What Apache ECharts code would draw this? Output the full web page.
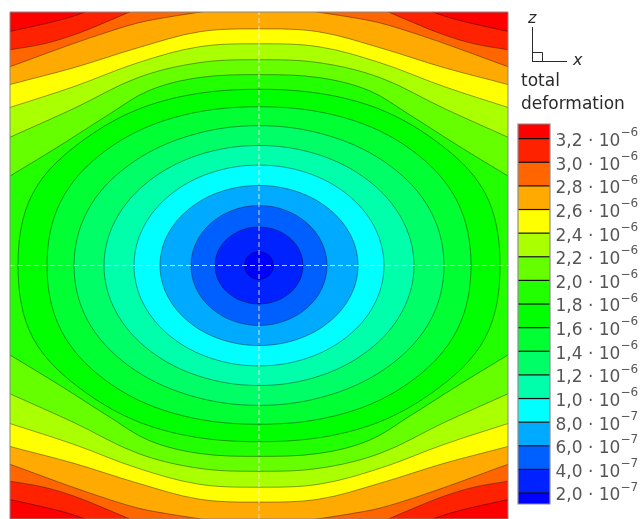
<!DOCTYPE html>
<html><head><meta charset="utf-8">
<script src="https://cdn.jsdelivr.net/npm/echarts@6/dist/echarts.min.js"></script>
<style>html,body{margin:0;padding:0;background:#fff}#c{width:642px;height:519px}</style>
</head><body><div id="c"></div>
<script>
// ---- data (total deformation, x 1e-6) ----
const levels = [0.2,0.4,0.6,0.8,1.0,1.2,1.4,1.6,1.8,2.0,2.2,2.4,2.6,2.8,3.0,3.2];
const bandColors = ['#0000FF','#0022FF','#0060FF','#00AAFF','#00FFFF','#00FFAA','#00FF66','#00FF33','#00FF00','#22FF00','#66FF00','#AAFF00','#FFFF00','#FFAA00','#FF6600','#FF2200','#FF0000'];
const tickMantissa = ['2,0','4,0','6,0','8,0','1,0','1,2','1,4','1,6','1,8','2,0','2,2','2,4','2,6','2,8','3,0','3,2'];
const tickExponent = ['\u22127','\u22127','\u22127','\u22127','\u22126','\u22126','\u22126','\u22126','\u22126','\u22126','\u22126','\u22126','\u22126','\u22126','\u22126','\u22126'];
const colorbarMin = 0.107, colorbarMax = 3.324;
const plateX = [-249, 249];
const plateZ = [-255, 255];
const symAxisV = [[0,-255],[0,255]];
const symAxisH = [[-249,0],[249,0]];

// contour lines (x, z) for each level
const c02 = [[0,14],[5.6,12.9],[10.3,9.9],[13.4,5.4],[14.5,0],[13.4,-5.4],[10.3,-9.9],[5.6,-12.9],[0,-14],[-5.6,-12.9],[-10.3,-9.9],[-13.4,-5.4],[-14.5,0],[-13.4,5.4],[-10.3,9.9],[-5.6,12.9]];
const c04 = [[0,38.7],[16.9,35.8],[31.1,27.4],[40.7,14.8],[44,0],[40.7,-14.8],[31.1,-27.4],[16.9,-35.8],[0,-38.7],[-16.9,-35.8],[-31.1,-27.4],[-40.7,-14.8],[-44,0],[-40.7,14.8],[-31.1,27.4],[-16.9,35.8]];
const c06 = [[0,60.3],[26,55.7],[48.1,42.6],[62.8,23.1],[68,0],[62.8,-23.1],[48.1,-42.6],[26,-55.7],[0,-60.3],[-26,-55.7],[-48.1,-42.6],[-62.8,-23.1],[-68,0],[-62.8,23.1],[-48.1,42.6],[-26,55.7]];
const c08 = [[0,80.5],[37.9,74.4],[70,56.9],[91.5,30.8],[99,0],[91.5,-30.8],[70,-56.9],[37.9,-74.4],[0,-80.5],[-37.9,-74.4],[-70,-56.9],[-91.5,-30.8],[-99,0],[-91.5,30.8],[-70,56.9],[-37.9,74.4]];
const c10 = [[0,101],[47.9,93.3],[88.4,71.4],[115.5,38.7],[125,0],[115.5,-38.7],[88.4,-71.4],[47.9,-93.3],[0,-101],[-47.9,-93.3],[-88.4,-71.4],[-115.5,-38.7],[-125,0],[-115.5,38.7],[-88.4,71.4],[-47.9,93.3]];
const c12 = [[0,120.7],[59.4,111.5],[109.6,85.3],[143.2,46.2],[155,0],[143.2,-46.2],[109.6,-85.3],[59.4,-111.5],[0,-120.7],[-59.4,-111.5],[-109.6,-85.3],[-143.2,-46.2],[-155,0],[-143.2,46.2],[-109.6,85.3],[-59.4,111.5]];
const c14 = [[0,140.7],[71.5,130],[131.5,100],[171.5,55],[185,0],[171.5,-55],[131.5,-100],[71.5,-130],[0,-140.7],[-71.5,-130],[-131.5,-100],[-171.5,-55],[-185,0],[-171.5,55],[-131.5,100],[-71.5,130]];
const c16 = [[0,159.7],[86,148.5],[153.5,115.5],[198,65],[212,0],[198,-65],[153.5,-115.5],[86,-148.5],[0,-159.7],[-86,-148.5],[-153.5,-115.5],[-198,-65],[-212,0],[-198,65],[-153.5,115.5],[-86,148.5]];
const c18 = [[0,177.3],[98,165],[173,128],[226,73],[241,0],[226,-73],[173,-128],[98,-165],[0,-177.3],[-98,-165],[-173,-128],[-226,-73],[-241,0],[-226,73],[-173,128],[-98,165]];
const c20 = [[0,192],[60,189],[110,176],[150,152],[200,120],[249,90],[262,82],[262,-82],[249,-90],[200,-120],[150,-152],[110,-176],[60,-189],[0,-192],[-60,-189],[-110,-176],[-150,-152],[-200,-120],[-249,-90],[-262,-82],[-262,82],[-249,90],[-200,120],[-150,152],[-110,176],[-60,189]];
const c22 = [[0,207],[60,204],[121,189],[185,158],[249,129],[262,123],[262,-123],[249,-129],[185,-158],[121,-189],[60,-204],[0,-207],[-60,-204],[-121,-189],[-185,-158],[-249,-129],[-262,-123],[-262,123],[-249,129],[-185,158],[-121,189],[-60,204]];
const c24 = [[0,223],[60,220],[121,204],[185,180],[249,159],[262,155],[262,-155],[249,-159],[185,-180],[121,-204],[60,-220],[0,-223],[-60,-220],[-121,-204],[-185,-180],[-249,-159],[-262,-155],[-262,155],[-249,159],[-185,180],[-121,204],[-60,220]];
const c26 = [[0,238],[60,235],[121,219],[185,199],[249,182],[262,178],[262,-178],[249,-182],[185,-199],[121,-219],[60,-235],[0,-238],[-60,-235],[-121,-219],[-185,-199],[-249,-182],[-262,-178],[-262,178],[-249,182],[-185,199],[-121,219],[-60,235]];
const c28 = [[0,264],[58,255],[90,250],[121,244],[160,232],[200,218],[249,200],[262,196],[262,-196],[249,-200],[200,-218],[160,-232],[121,-244],[90,-250],[58,-255],[0,-264],[-58,-255],[-90,-250],[-121,-244],[-160,-232],[-200,-218],[-249,-200],[-262,-196],[-262,196],[-249,200],[-200,218],[-160,232],[-121,244],[-90,250],[-58,255]];
const c30 = [[0,272],[100,268],[129.5,255],[155,244],[185,232],[215,223],[249,217],[262,215],[262,-215],[249,-217],[215,-223],[185,-232],[155,-244],[129.5,-255],[100,-268],[0,-272],[-100,-268],[-129.5,-255],[-155,-244],[-185,-232],[-215,-223],[-249,-217],[-262,-215],[-262,215],[-249,217],[-215,223],[-185,232],[-155,244],[-129.5,255],[-100,268]];
const c32 = [[0,280],[150,266],[174,255],[195,248],[215,243],[235,238.5],[249,235.5],[262,233],[262,-233],[249,-235.5],[235,-238.5],[215,-243],[195,-248],[174,-255],[150,-266],[0,-280],[-150,-266],[-174,-255],[-195,-248],[-215,-243],[-235,-238.5],[-249,-235.5],[-262,-233],[-262,233],[-249,235.5],[-235,238.5],[-215,243],[-195,248],[-174,255],[-150,266]];
const contourLines = [c02,c04,c06,c08,c10,c12,c14,c16,c18,c20,c22,c24,c26,c28,c30,c32];

// ---- chart ----
const FONT = '"DejaVu Sans", "Liberation Sans", sans-serif';
const TEXT = '#2a2a2a';
const chart = echarts.init(document.getElementById('c'), null, {renderer: 'canvas'});

// draw from highest level (largest region) to lowest (smallest)
const contourData = levels.map((v, i) => [0, 0, v, i]).reverse();
const bandEdges = [colorbarMin].concat(levels, [colorbarMax]);
const bandData = bandColors.map((c, k) => [0, bandEdges[k], bandEdges[k + 1], k]);

const option = {
  animation: false,
  backgroundColor: '#ffffff',
  grid: [
    {left: 10, top: 12, width: 498, height: 510, show: true, backgroundColor: bandColors[16], borderWidth: 0},
    {left: 518, top: 124, width: 32, height: 380, show: false}
  ],
  xAxis: [
    {gridIndex: 0, type: 'value', min: plateX[0], max: plateX[1], show: false},
    {gridIndex: 1, type: 'value', min: 0, max: 1, show: false}
  ],
  yAxis: [
    {gridIndex: 0, type: 'value', min: plateZ[0], max: plateZ[1], show: false},
    {gridIndex: 1, type: 'value', min: colorbarMin, max: colorbarMax, show: false}
  ],
  series: [
    {
      type: 'custom', xAxisIndex: 0, yAxisIndex: 0, clip: true, silent: true,
      data: contourData, encode: {x: 0, y: 1},
      renderItem: function (params, api) {
        const li = contourData[params.dataIndex][3];
        const pts = contourLines[li].map(p => api.coord(p));
        return {
          type: 'polygon', z2: params.dataIndex,
          shape: {points: pts, smooth: 0.35},
          style: {fill: bandColors[li], stroke: 'rgba(0,0,0,0.55)', lineWidth: 0.7}
        };
      }
    },
    {
      type: 'line', xAxisIndex: 0, yAxisIndex: 0, data: symAxisV, silent: true, z: 5,
      symbol: 'none', lineStyle: {color: 'rgba(255,240,240,0.8)', width: 1, type: [5, 3]}
    },
    {
      type: 'line', xAxisIndex: 0, yAxisIndex: 0, data: symAxisH, silent: true, z: 5,
      symbol: 'none', lineStyle: {color: 'rgba(255,240,240,0.8)', width: 1, type: [5, 3]}
    },
    {
      type: 'custom', xAxisIndex: 0, yAxisIndex: 0, silent: true, z: 6,
      data: [[0, 0]],
      renderItem: function (params, api) {
        const a = api.coord([plateX[0], plateZ[1]]);
        const b = api.coord([plateX[1], plateZ[0]]);
        return {type: 'rect', shape: {x: a[0], y: a[1], width: b[0] - a[0], height: b[1] - a[1]},
          style: {fill: 'none', stroke: '#888888', lineWidth: 1}};
      }
    },
    {
      type: 'custom', xAxisIndex: 1, yAxisIndex: 1, silent: true,
      data: bandData, encode: {x: 0, y: 1},
      renderItem: function (params, api) {
        const d = bandData[params.dataIndex];
        const p0 = api.coord([0, d[1]]);
        const p1 = api.coord([1, d[2]]);
        const children = [{
          type: 'rect', shape: {x: p0[0], y: p1[1], width: p1[0] - p0[0], height: p0[1] - p1[1]},
          style: {fill: bandColors[d[3]]}
        }];
        if (d[3] < 16) {
          children.push({type: 'line', z2: 5, shape: {x1: p0[0], y1: p1[1], x2: p1[0], y2: p1[1]},
            style: {stroke: '#111111', lineWidth: 1.2}});
        }
        return {type: 'group', children: children};
      }
    },
    {
      type: 'custom', xAxisIndex: 1, yAxisIndex: 1, silent: true, z: 6,
      data: [[0, colorbarMin]],
      renderItem: function (params, api) {
        const a = api.coord([0, colorbarMax]);
        const b = api.coord([1, colorbarMin]);
        return {type: 'rect', shape: {x: a[0], y: a[1], width: b[0] - a[0], height: b[1] - a[1]},
          style: {fill: 'none', stroke: '#8c8c8c', lineWidth: 1.2}};
      }
    },
    {
      type: 'scatter', xAxisIndex: 1, yAxisIndex: 1, silent: true,
      data: levels.map(v => [1, v]), symbolSize: 1, itemStyle: {color: 'rgba(0,0,0,0)'},
      label: {
        show: true, position: 'right', distance: 5,
        formatter: p => '{m|' + tickMantissa[p.dataIndex] + ' \u00B7 10}{s|' + tickExponent[p.dataIndex] + '}',
        rich: {
          m: {fontSize: 17, fontFamily: FONT, color: TEXT, lineHeight: 23, verticalAlign: 'bottom'},
          s: {fontSize: 12, fontFamily: FONT, color: TEXT, lineHeight: 12, verticalAlign: 'top'}
        }
      }
    }
  ],
  graphic: [
    {type: 'text', x: 528, y: 19, style: {text: 'z', fontSize: 16, fontStyle: 'italic', fontFamily: FONT, fill: TEXT, verticalAlign: 'middle'}},
    {type: 'line', shape: {x1: 532.5, y1: 27, x2: 532.5, y2: 62}, style: {stroke: TEXT, lineWidth: 1}},
    {type: 'line', shape: {x1: 532, y1: 61.5, x2: 567, y2: 61.5}, style: {stroke: TEXT, lineWidth: 1}},
    {type: 'rect', shape: {x: 532.5, y: 52.5, width: 10, height: 9}, style: {fill: 'none', stroke: TEXT, lineWidth: 1}},
    {type: 'text', x: 573, y: 61, style: {text: 'x', fontSize: 16, fontStyle: 'italic', fontFamily: FONT, fill: TEXT, verticalAlign: 'middle'}},
    {type: 'text', x: 521, y: 82, style: {text: 'total', fontSize: 17, fontFamily: FONT, fill: TEXT, verticalAlign: 'middle'}},
    {type: 'text', x: 521, y: 104.5, style: {text: 'deformation', fontSize: 17, fontFamily: FONT, fill: TEXT, verticalAlign: 'middle'}}
  ]
};
chart.setOption(option);
</script>
</body></html>
